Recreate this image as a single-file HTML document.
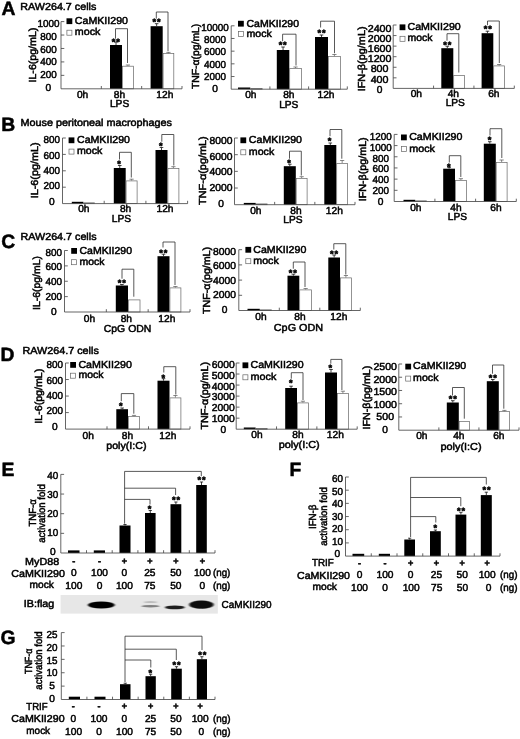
<!DOCTYPE html>
<html lang="en">
<head>
<meta charset="utf-8">
<title>CaMKII290 cytokine figure</title>
<style>
html,body{margin:0;padding:0;background:#fff;}
body{width:520px;height:739px;overflow:hidden;}
svg{display:block;filter:blur(.35px);}
svg text{font-family:"Liberation Sans","DejaVu Sans",sans-serif;font-size:10.2px;fill:#000;stroke:#000;stroke-width:.5px;text-rendering:geometricPrecision;}
.st{stroke-width:.55px;letter-spacing:.8px;}
.ax{fill:none;stroke:#4a4a4a;stroke-width:.85px;}
.tk{fill:none;stroke:#4a4a4a;stroke-width:.85px;}
.br{fill:none;stroke:#2e2e2e;stroke-width:.8px;}
.er{fill:none;stroke:#111;stroke-width:.8px;}
.erw{fill:none;stroke:#555;stroke-width:.7px;}
.bk{fill:#000;}
.wh{fill:#fff;stroke:#666;stroke-width:.7px;}
.gel{fill:#e7e7e7;}
</style>
</head>
<body>
<svg width="520" height="739" viewBox="0 0 520 739">
<defs>
<filter id="b1" x="-20%" y="-60%" width="140%" height="220%"><feGaussianBlur stdDeviation="0.9 0.7"/></filter>
<filter id="b2" x="-20%" y="-200%" width="140%" height="500%"><feGaussianBlur stdDeviation="0.9 0.6"/></filter>
</defs>
<rect x="0" y="0" width="520" height="739" fill="#fff"/>
<text x="1.6" y="15.2" style="font-size:19.3px" font-weight="bold">A</text>
<text x="1.2" y="130.6" style="font-size:19.3px" font-weight="bold">B</text>
<text x="1.2" y="247.5" style="font-size:19.3px" font-weight="bold">C</text>
<text x="0.6" y="360.6" style="font-size:19.3px" font-weight="bold">D</text>
<text x="1.6" y="475.6" style="font-size:19.3px" font-weight="bold">E</text>
<text x="289.4" y="475.6" style="font-size:19.3px" font-weight="bold">F</text>
<text x="0.4" y="643.8" style="font-size:19.3px" font-weight="bold">G</text>
<text x="20.3" y="9.8" textLength="76" lengthAdjust="spacingAndGlyphs">RAW264.7 cells</text>
<text x="20.5" y="125.8" textLength="151.5" lengthAdjust="spacingAndGlyphs">Mouse peritoneal macrophages</text>
<text x="20.5" y="239.6" textLength="76" lengthAdjust="spacingAndGlyphs">RAW264.7 cells</text>
<text x="22.5" y="353.8" textLength="76.3" lengthAdjust="spacingAndGlyphs">RAW264.7 cells</text>
<text x="48.4" y="26.85" text-anchor="middle" textLength="22" lengthAdjust="spacingAndGlyphs">1000</text>
<text x="48.4" y="39.71" text-anchor="middle" textLength="16.5" lengthAdjust="spacingAndGlyphs">800</text>
<text x="48.4" y="52.57" text-anchor="middle" textLength="16.5" lengthAdjust="spacingAndGlyphs">600</text>
<text x="48.4" y="65.43" text-anchor="middle" textLength="16.5" lengthAdjust="spacingAndGlyphs">400</text>
<text x="48.4" y="78.29" text-anchor="middle" textLength="16.5" lengthAdjust="spacingAndGlyphs">200</text>
<text x="48.4" y="91.15" text-anchor="middle">0</text>
<text transform="translate(35.7 55.1) rotate(-90)" text-anchor="middle" textLength="54.8" lengthAdjust="spacingAndGlyphs">IL-6(pg/mL)</text>
<rect class="bk" x="110" y="45" width="12" height="43.8"/>
<path class="er" d="M116 45V42M114.2 42H117.8"/>
<rect class="wh" x="122.4" y="66.2" width="11" height="22.6"/>
<path class="erw" d="M127.9 65.8V65M125.8 65H130"/>
<rect class="bk" x="150.6" y="26.2" width="12.1" height="62.6"/>
<path class="er" d="M156.65 26.2V23.7M154.85 23.7H158.45"/>
<rect class="wh" x="163.1" y="53.6" width="10.7" height="35.2"/>
<path class="erw" d="M168.45 53.2V52.4M166.35 52.4H170.55"/>
<path class="ax" d="M61 21.6V88.8H182"/>
<path class="tk" d="M61 21.6L64.3 21.6"/>
<path class="tk" d="M61 35.04L64.3 35.04"/>
<path class="tk" d="M61 48.48L64.3 48.48"/>
<path class="tk" d="M61 61.92L64.3 61.92"/>
<path class="tk" d="M61 75.36L64.3 75.36"/>
<path class="tk" d="M101.33 88.8L101.33 86"/>
<path class="tk" d="M141.67 88.8L141.67 86"/>
<path class="tk" d="M182 88.8L182 86"/>
<rect class="bk" x="66.5" y="18.3" width="5.8" height="5.8"/>
<rect class="wh" x="66.9" y="30.2" width="5" height="5"/>
<text x="74.8" y="24" textLength="53.2" lengthAdjust="spacingAndGlyphs">CaMKII290</text>
<text x="74.8" y="35.3" textLength="25.6" lengthAdjust="spacingAndGlyphs">mock</text>
<text x="116.2" y="45.3" text-anchor="middle" style="font-size:9.2px" font-weight="bold" class="st">**</text>
<text x="157" y="25.3" text-anchor="middle" style="font-size:9.2px" font-weight="bold" class="st">**</text>
<path class="br" d="M115.5 38.7V28.7H127.5V63"/>
<path class="br" d="M156.3 18.7V12H168V51.2"/>
<text x="82.6" y="97.9" text-anchor="middle">0h</text>
<text x="119.5" y="97.9" text-anchor="middle">8h</text>
<text x="164.8" y="97.9" text-anchor="middle">12h</text>
<text x="119.6" y="107" text-anchor="middle">LPS</text>
<text x="214.97" y="30.55" text-anchor="middle" textLength="27.5" lengthAdjust="spacingAndGlyphs">10000</text>
<text x="214.97" y="42.87" text-anchor="middle" textLength="22" lengthAdjust="spacingAndGlyphs">8000</text>
<text x="214.97" y="55.19" text-anchor="middle" textLength="22" lengthAdjust="spacingAndGlyphs">6000</text>
<text x="214.97" y="67.51" text-anchor="middle" textLength="22" lengthAdjust="spacingAndGlyphs">4000</text>
<text x="214.97" y="79.83" text-anchor="middle" textLength="22" lengthAdjust="spacingAndGlyphs">2000</text>
<text x="214.97" y="92.15" text-anchor="middle">0</text>
<text transform="translate(198.5 56.4) rotate(-90)" text-anchor="middle" textLength="65.3" lengthAdjust="spacingAndGlyphs">TNF-α(pg/mL)</text>
<rect class="bk" x="238" y="87.5" width="12.3" height="1.7"/>
<rect class="wh" x="250.7" y="88.5" width="11.4" height="0.7"/>
<rect class="bk" x="276.8" y="50" width="12.5" height="39.2"/>
<path class="er" d="M283.05 50V47M281.25 47H284.85"/>
<rect class="wh" x="289.7" y="68.4" width="11.7" height="20.8"/>
<path class="erw" d="M295.55 68V67M293.45 67H297.65"/>
<rect class="bk" x="315" y="37" width="13" height="52.2"/>
<path class="er" d="M321.5 37V35M319.7 35H323.3"/>
<rect class="wh" x="328.4" y="56.6" width="12" height="32.6"/>
<path class="erw" d="M334.4 56.2V54.5M332.3 54.5H336.5"/>
<path class="ax" d="M231.2 25.8V89.2H347.3"/>
<path class="tk" d="M231.2 25.8L234.5 25.8"/>
<path class="tk" d="M231.2 38.48L234.5 38.48"/>
<path class="tk" d="M231.2 51.16L234.5 51.16"/>
<path class="tk" d="M231.2 63.84L234.5 63.84"/>
<path class="tk" d="M231.2 76.52L234.5 76.52"/>
<path class="tk" d="M269.9 89.2L269.9 86.4"/>
<path class="tk" d="M308.6 89.2L308.6 86.4"/>
<path class="tk" d="M347.3 89.2L347.3 86.4"/>
<rect class="bk" x="238" y="20.8" width="5.8" height="5.8"/>
<rect class="wh" x="238.4" y="31.4" width="5" height="5"/>
<text x="246.5" y="26.5" textLength="52.5" lengthAdjust="spacingAndGlyphs">CaMKII290</text>
<text x="246.5" y="36.5" textLength="25.4" lengthAdjust="spacingAndGlyphs">mock</text>
<text x="283.1" y="48" text-anchor="middle" style="font-size:9.2px" font-weight="bold" class="st">**</text>
<text x="321.9" y="36" text-anchor="middle" style="font-size:9.2px" font-weight="bold" class="st">**</text>
<path class="br" d="M282.6 41.2V34.2H296V65.5"/>
<path class="br" d="M320.6 27.5V21.2H334.5V53.2"/>
<text x="250.8" y="98.4" text-anchor="middle">0h</text>
<text x="288.8" y="98.4" text-anchor="middle">8h</text>
<text x="326" y="98.4" text-anchor="middle">12h</text>
<text x="288.8" y="107.7" text-anchor="middle">LPS</text>
<text x="379.6" y="31.75" text-anchor="middle" textLength="23.8" lengthAdjust="spacingAndGlyphs">2400</text>
<text x="379.6" y="41.92" text-anchor="middle" textLength="23.8" lengthAdjust="spacingAndGlyphs">2000</text>
<text x="379.6" y="52.08" text-anchor="middle" textLength="23.8" lengthAdjust="spacingAndGlyphs">1600</text>
<text x="379.6" y="62.25" text-anchor="middle" textLength="23.8" lengthAdjust="spacingAndGlyphs">1200</text>
<text x="379.6" y="72.42" text-anchor="middle" textLength="17.85" lengthAdjust="spacingAndGlyphs">800</text>
<text x="379.6" y="82.58" text-anchor="middle" textLength="17.85" lengthAdjust="spacingAndGlyphs">400</text>
<text x="379.6" y="92.75" text-anchor="middle">0</text>
<text transform="translate(365 58.9) rotate(-90)" text-anchor="middle" textLength="64.9" lengthAdjust="spacingAndGlyphs">IFN-β(pg/mL)</text>
<rect class="bk" x="441.3" y="48.2" width="12" height="40.2"/>
<path class="er" d="M447.3 48.2V46.2M445.5 46.2H449.1"/>
<rect class="wh" x="453.7" y="75.4" width="10.9" height="13"/>
<rect class="bk" x="481.6" y="33.2" width="11.7" height="55.2"/>
<path class="er" d="M487.45 33.2V31.2M485.65 31.2H489.25"/>
<rect class="wh" x="493.7" y="65.9" width="10.9" height="22.5"/>
<path class="erw" d="M499.15 65.5V64.5M497.05 64.5H501.25"/>
<path class="ax" d="M393.2 25V88.4H514.3"/>
<path class="tk" d="M393.2 25L396.5 25"/>
<path class="tk" d="M393.2 35.57L396.5 35.57"/>
<path class="tk" d="M393.2 46.13L396.5 46.13"/>
<path class="tk" d="M393.2 56.7L396.5 56.7"/>
<path class="tk" d="M393.2 67.27L396.5 67.27"/>
<path class="tk" d="M393.2 77.83L396.5 77.83"/>
<path class="tk" d="M433.57 88.4L433.57 85.6"/>
<path class="tk" d="M473.93 88.4L473.93 85.6"/>
<path class="tk" d="M514.3 88.4L514.3 85.6"/>
<rect class="bk" x="399.6" y="24.4" width="5.8" height="5.8"/>
<rect class="wh" x="400" y="36.3" width="5" height="5"/>
<text x="407.5" y="30.1" textLength="53.3" lengthAdjust="spacingAndGlyphs">CaMKII290</text>
<text x="407.5" y="41.4" textLength="25" lengthAdjust="spacingAndGlyphs">mock</text>
<text x="447.7" y="48" text-anchor="middle" style="font-size:9.2px" font-weight="bold" class="st">**</text>
<text x="488.2" y="31.8" text-anchor="middle" style="font-size:9.2px" font-weight="bold" class="st">**</text>
<path class="br" d="M447 40.7V33.7H458.8V72.5"/>
<path class="br" d="M487.5 25.2V21H499.3V63"/>
<text x="416.3" y="97.3" text-anchor="middle">0h</text>
<text x="453.3" y="97.3" text-anchor="middle">4h</text>
<text x="493.8" y="97.3" text-anchor="middle">6h</text>
<text x="455.3" y="106.3" text-anchor="middle">LPS</text>
<text x="51.72" y="143.05" text-anchor="middle" textLength="16.5" lengthAdjust="spacingAndGlyphs">800</text>
<text x="51.72" y="158.5" text-anchor="middle" textLength="16.5" lengthAdjust="spacingAndGlyphs">600</text>
<text x="51.72" y="173.95" text-anchor="middle" textLength="16.5" lengthAdjust="spacingAndGlyphs">400</text>
<text x="51.72" y="189.4" text-anchor="middle" textLength="16.5" lengthAdjust="spacingAndGlyphs">200</text>
<text x="51.72" y="204.85" text-anchor="middle">0</text>
<text transform="translate(38.2 170.3) rotate(-90)" text-anchor="middle" textLength="56" lengthAdjust="spacingAndGlyphs">IL-6(pg/mL)</text>
<rect class="bk" x="71.8" y="201.8" width="11.6" height="1.8"/>
<rect class="wh" x="83.8" y="202.8" width="10.8" height="0.8"/>
<rect class="bk" x="113.8" y="168" width="11.9" height="35.6"/>
<path class="er" d="M119.75 168V165.5M117.95 165.5H121.55"/>
<rect class="wh" x="126.1" y="180.9" width="11" height="22.7"/>
<path class="erw" d="M131.6 180.5V179.2M129.5 179.2H133.7"/>
<rect class="bk" x="155.5" y="150" width="12" height="53.6"/>
<path class="er" d="M161.5 150V147.5M159.7 147.5H163.3"/>
<rect class="wh" x="167.9" y="168.4" width="11" height="35.2"/>
<path class="erw" d="M173.4 168V166.7M171.3 166.7H175.5"/>
<path class="ax" d="M62.5 138V203.6H187.6"/>
<path class="tk" d="M62.5 138L65.8 138"/>
<path class="tk" d="M62.5 154.4L65.8 154.4"/>
<path class="tk" d="M62.5 170.8L65.8 170.8"/>
<path class="tk" d="M62.5 187.2L65.8 187.2"/>
<path class="tk" d="M104.2 203.6L104.2 200.8"/>
<path class="tk" d="M145.9 203.6L145.9 200.8"/>
<path class="tk" d="M187.6 203.6L187.6 200.8"/>
<rect class="bk" x="68.6" y="137.4" width="5.8" height="5.8"/>
<rect class="wh" x="69" y="149.1" width="5" height="5"/>
<text x="77" y="143.1" textLength="53" lengthAdjust="spacingAndGlyphs">CaMKII290</text>
<text x="77" y="154.2" textLength="25.4" lengthAdjust="spacingAndGlyphs">mock</text>
<text x="119.5" y="166.8" text-anchor="middle" style="font-size:9.2px" font-weight="bold" class="st">*</text>
<text x="161.3" y="149.3" text-anchor="middle" style="font-size:9.2px" font-weight="bold" class="st">*</text>
<path class="br" d="M119.5 159.5V152.3H131.3V177.5"/>
<path class="br" d="M161.8 141.7V134.5H173.8V165.5"/>
<text x="83.8" y="212.2" text-anchor="middle">0h</text>
<text x="125.6" y="212.2" text-anchor="middle">8h</text>
<text x="165" y="212.2" text-anchor="middle">12h</text>
<text x="121.5" y="221.9" text-anchor="middle">LPS</text>
<text x="221" y="143.75" text-anchor="middle" textLength="23" lengthAdjust="spacingAndGlyphs">8000</text>
<text x="221" y="159.5" text-anchor="middle" textLength="23" lengthAdjust="spacingAndGlyphs">6000</text>
<text x="221" y="175.25" text-anchor="middle" textLength="23" lengthAdjust="spacingAndGlyphs">4000</text>
<text x="221" y="191" text-anchor="middle" textLength="23" lengthAdjust="spacingAndGlyphs">2000</text>
<text x="221" y="206.75" text-anchor="middle">0</text>
<text transform="translate(205.5 170.6) rotate(-90)" text-anchor="middle" textLength="68.7" lengthAdjust="spacingAndGlyphs">TNF-α(pg/mL)</text>
<rect class="bk" x="243.8" y="202.9" width="11.9" height="1.8"/>
<rect class="wh" x="256.1" y="203.9" width="11" height="0.8"/>
<rect class="bk" x="283.8" y="166.2" width="12" height="38.5"/>
<path class="er" d="M289.8 166.2V164.2M288 164.2H291.6"/>
<rect class="wh" x="296.2" y="178.4" width="10.9" height="26.3"/>
<path class="erw" d="M301.65 178V176.7M299.55 176.7H303.75"/>
<rect class="bk" x="324.3" y="145" width="12" height="59.7"/>
<path class="er" d="M330.3 145V143M328.5 143H332.1"/>
<rect class="wh" x="336.7" y="163.4" width="10.9" height="41.3"/>
<path class="erw" d="M342.15 163V160.5M340.05 160.5H344.25"/>
<path class="ax" d="M234.5 138V204.7H355"/>
<path class="tk" d="M234.5 138L237.8 138"/>
<path class="tk" d="M234.5 154.68L237.8 154.68"/>
<path class="tk" d="M234.5 171.35L237.8 171.35"/>
<path class="tk" d="M234.5 188.02L237.8 188.02"/>
<path class="tk" d="M274.67 204.7L274.67 201.9"/>
<path class="tk" d="M314.83 204.7L314.83 201.9"/>
<path class="tk" d="M355 204.7L355 201.9"/>
<rect class="bk" x="240.4" y="137.4" width="5.8" height="5.8"/>
<rect class="wh" x="240.8" y="149.8" width="5" height="5"/>
<text x="248.8" y="143.1" textLength="53.2" lengthAdjust="spacingAndGlyphs">CaMKII290</text>
<text x="248.8" y="154.9" textLength="25.4" lengthAdjust="spacingAndGlyphs">mock</text>
<text x="289.5" y="166" text-anchor="middle" style="font-size:9.2px" font-weight="bold" class="st">*</text>
<text x="330" y="144.3" text-anchor="middle" style="font-size:9.2px" font-weight="bold" class="st">*</text>
<path class="br" d="M289.5 158.7V151.2H301.3V175.5"/>
<path class="br" d="M330 136.2V129.5H341.8V158.7"/>
<text x="255.8" y="213.8" text-anchor="middle">0h</text>
<text x="296" y="213.8" text-anchor="middle">8h</text>
<text x="334.3" y="213.8" text-anchor="middle">12h</text>
<text x="293" y="223.2" text-anchor="middle">LPS</text>
<text x="380.7" y="140.05" text-anchor="middle" textLength="22" lengthAdjust="spacingAndGlyphs">1200</text>
<text x="380.7" y="150.83" text-anchor="middle" textLength="22" lengthAdjust="spacingAndGlyphs">1000</text>
<text x="380.7" y="161.62" text-anchor="middle" textLength="16.5" lengthAdjust="spacingAndGlyphs">800</text>
<text x="380.7" y="172.4" text-anchor="middle" textLength="16.5" lengthAdjust="spacingAndGlyphs">600</text>
<text x="380.7" y="183.18" text-anchor="middle" textLength="16.5" lengthAdjust="spacingAndGlyphs">400</text>
<text x="380.7" y="193.97" text-anchor="middle" textLength="16.5" lengthAdjust="spacingAndGlyphs">200</text>
<text x="380.7" y="204.75" text-anchor="middle">0</text>
<text transform="translate(366.2 169.3) rotate(-90)" text-anchor="middle" textLength="64" lengthAdjust="spacingAndGlyphs">IFN-β(pg/mL)</text>
<rect class="bk" x="403.5" y="199.8" width="11.7" height="1.7"/>
<rect class="wh" x="415.6" y="200.8" width="11" height="0.7"/>
<rect class="bk" x="443.2" y="168.7" width="11.8" height="32.8"/>
<path class="er" d="M449.1 168.7V167.4M447.3 167.4H450.9"/>
<rect class="wh" x="455.4" y="180.4" width="11" height="21.1"/>
<path class="erw" d="M460.9 180V178.7M458.8 178.7H463"/>
<rect class="bk" x="483.8" y="143.7" width="12" height="57.8"/>
<path class="er" d="M489.8 143.7V141.7M488 141.7H491.6"/>
<rect class="wh" x="496.2" y="162.4" width="10.9" height="39.1"/>
<path class="erw" d="M501.65 162V160M499.55 160H503.75"/>
<path class="ax" d="M394.2 134.4V201.5H516.3"/>
<path class="tk" d="M394.2 134.4L397.5 134.4"/>
<path class="tk" d="M394.2 145.58L397.5 145.58"/>
<path class="tk" d="M394.2 156.77L397.5 156.77"/>
<path class="tk" d="M394.2 167.95L397.5 167.95"/>
<path class="tk" d="M394.2 179.13L397.5 179.13"/>
<path class="tk" d="M394.2 190.32L397.5 190.32"/>
<path class="tk" d="M434.9 201.5L434.9 198.7"/>
<path class="tk" d="M475.6 201.5L475.6 198.7"/>
<path class="tk" d="M516.3 201.5L516.3 198.7"/>
<rect class="bk" x="401" y="134.5" width="5.8" height="5.8"/>
<rect class="wh" x="401.4" y="146.6" width="5" height="5"/>
<text x="409.2" y="140.2" textLength="53.2" lengthAdjust="spacingAndGlyphs">CaMKII290</text>
<text x="409.2" y="151.7" textLength="25.8" lengthAdjust="spacingAndGlyphs">mock</text>
<text x="449.3" y="169.8" text-anchor="middle" style="font-size:9.2px" font-weight="bold" class="st">*</text>
<text x="490" y="143" text-anchor="middle" style="font-size:9.2px" font-weight="bold" class="st">*</text>
<path class="br" d="M449.3 162.5V155.7H460.8V177"/>
<path class="br" d="M490 135.5V128.7H501.8V158"/>
<text x="415.8" y="210.5" text-anchor="middle">0h</text>
<text x="456" y="210.5" text-anchor="middle">4h</text>
<text x="496" y="210.5" text-anchor="middle">6h</text>
<text x="457.5" y="220.2" text-anchor="middle">LPS</text>
<text x="53.72" y="255.55" text-anchor="middle" textLength="16.5" lengthAdjust="spacingAndGlyphs">800</text>
<text x="53.72" y="270.38" text-anchor="middle" textLength="16.5" lengthAdjust="spacingAndGlyphs">600</text>
<text x="53.72" y="285.2" text-anchor="middle" textLength="16.5" lengthAdjust="spacingAndGlyphs">400</text>
<text x="53.72" y="300.03" text-anchor="middle" textLength="16.5" lengthAdjust="spacingAndGlyphs">200</text>
<text x="53.72" y="314.85" text-anchor="middle">0</text>
<text transform="translate(39.6 283) rotate(-90)" text-anchor="middle" textLength="53.8" lengthAdjust="spacingAndGlyphs">IL-6(pg/mL)</text>
<rect class="bk" x="115.8" y="285.5" width="12.2" height="26.5"/>
<path class="er" d="M121.9 285.5V284.5M120.1 284.5H123.7"/>
<rect class="wh" x="128.4" y="299.9" width="11.6" height="12.1"/>
<rect class="bk" x="157.5" y="256.2" width="12" height="55.8"/>
<path class="er" d="M163.5 256.2V254.2M161.7 254.2H165.3"/>
<rect class="wh" x="169.9" y="287.9" width="11" height="24.1"/>
<path class="erw" d="M175.4 287.5V286.5M173.3 286.5H177.5"/>
<path class="ax" d="M64.5 250.5V312H190"/>
<path class="tk" d="M64.5 250.5L67.8 250.5"/>
<path class="tk" d="M64.5 265.88L67.8 265.88"/>
<path class="tk" d="M64.5 281.25L67.8 281.25"/>
<path class="tk" d="M64.5 296.62L67.8 296.62"/>
<path class="tk" d="M106.33 312L106.33 309.2"/>
<path class="tk" d="M148.17 312L148.17 309.2"/>
<path class="tk" d="M190 312L190 309.2"/>
<rect class="bk" x="71.2" y="248" width="5.8" height="5.8"/>
<rect class="wh" x="71.6" y="259.7" width="5" height="5"/>
<text x="79.5" y="253.7" textLength="52.5" lengthAdjust="spacingAndGlyphs">CaMKII290</text>
<text x="79.5" y="264.8" textLength="25" lengthAdjust="spacingAndGlyphs">mock</text>
<text x="122.2" y="286.3" text-anchor="middle" style="font-size:9.2px" font-weight="bold" class="st">**</text>
<text x="163.7" y="255.5" text-anchor="middle" style="font-size:9.2px" font-weight="bold" class="st">**</text>
<path class="br" d="M122 278.7V269.2H133.8V296.7"/>
<path class="br" d="M163 247.5V242H175V285"/>
<text x="89.5" y="322.3" text-anchor="middle">0h</text>
<text x="126.3" y="322.3" text-anchor="middle">8h</text>
<text x="166.8" y="322.3" text-anchor="middle">12h</text>
<text x="103.8" y="331.8" textLength="47.5" lengthAdjust="spacingAndGlyphs">CpG ODN</text>
<text x="224.6" y="254.75" text-anchor="middle" textLength="23" lengthAdjust="spacingAndGlyphs">8000</text>
<text x="224.6" y="269.32" text-anchor="middle" textLength="23" lengthAdjust="spacingAndGlyphs">6000</text>
<text x="224.6" y="283.9" text-anchor="middle" textLength="23" lengthAdjust="spacingAndGlyphs">4000</text>
<text x="224.6" y="298.48" text-anchor="middle" textLength="23" lengthAdjust="spacingAndGlyphs">2000</text>
<text x="224.6" y="313.05" text-anchor="middle">0</text>
<text transform="translate(210.1 280.4) rotate(-90)" text-anchor="middle" textLength="67" lengthAdjust="spacingAndGlyphs">TNF-α(pg/mL)</text>
<rect class="bk" x="247.5" y="308.8" width="12.3" height="1.7"/>
<rect class="wh" x="260.2" y="309.8" width="11.4" height="0.7"/>
<rect class="bk" x="287.5" y="275.7" width="11.8" height="34.8"/>
<path class="er" d="M293.4 275.7V274.2M291.6 274.2H295.2"/>
<rect class="wh" x="299.7" y="289.9" width="11.9" height="20.6"/>
<path class="erw" d="M305.65 289.5V288.5M303.55 288.5H307.75"/>
<rect class="bk" x="328.3" y="257.5" width="11.7" height="53"/>
<path class="er" d="M334.15 257.5V255M332.35 255H335.95"/>
<rect class="wh" x="340.4" y="277.9" width="11" height="32.6"/>
<path class="erw" d="M345.9 277.5V275.5M343.8 275.5H348"/>
<path class="ax" d="M238.8 249.7V310.5H360.3"/>
<path class="tk" d="M238.8 249.7L242.1 249.7"/>
<path class="tk" d="M238.8 264.9L242.1 264.9"/>
<path class="tk" d="M238.8 280.1L242.1 280.1"/>
<path class="tk" d="M238.8 295.3L242.1 295.3"/>
<path class="tk" d="M279.3 310.5L279.3 307.7"/>
<path class="tk" d="M319.8 310.5L319.8 307.7"/>
<path class="tk" d="M360.3 310.5L360.3 307.7"/>
<rect class="bk" x="245.4" y="246.9" width="5.8" height="5.8"/>
<rect class="wh" x="245.8" y="258.7" width="5" height="5"/>
<text x="253.3" y="252.6" textLength="53" lengthAdjust="spacingAndGlyphs">CaMKII290</text>
<text x="253.3" y="263.8" textLength="25.5" lengthAdjust="spacingAndGlyphs">mock</text>
<text x="293.2" y="276" text-anchor="middle" style="font-size:9.2px" font-weight="bold" class="st">**</text>
<text x="334.5" y="256.8" text-anchor="middle" style="font-size:9.2px" font-weight="bold" class="st">**</text>
<path class="br" d="M293.3 268.7V262H305V287"/>
<path class="br" d="M333.8 249.5V243.7H345.8V274.5"/>
<text x="261" y="320.2" text-anchor="middle">0h</text>
<text x="300" y="320.2" text-anchor="middle">8h</text>
<text x="338.8" y="320.2" text-anchor="middle">12h</text>
<text x="273.8" y="330.8" textLength="49.3" lengthAdjust="spacingAndGlyphs">CpG ODN</text>
<text x="54.72" y="368.35" text-anchor="middle" textLength="16.5" lengthAdjust="spacingAndGlyphs">800</text>
<text x="54.72" y="383.65" text-anchor="middle" textLength="16.5" lengthAdjust="spacingAndGlyphs">600</text>
<text x="54.72" y="398.95" text-anchor="middle" textLength="16.5" lengthAdjust="spacingAndGlyphs">400</text>
<text x="54.72" y="414.25" text-anchor="middle" textLength="16.5" lengthAdjust="spacingAndGlyphs">200</text>
<text x="54.72" y="429.55" text-anchor="middle">0</text>
<text transform="translate(42.3 396.2) rotate(-90)" text-anchor="middle" textLength="55" lengthAdjust="spacingAndGlyphs">IL-6(pg/mL)</text>
<rect class="bk" x="116.3" y="409.2" width="11.7" height="19.9"/>
<path class="er" d="M122.15 409.2V408M120.35 408H123.95"/>
<rect class="wh" x="128.4" y="416.6" width="11.2" height="12.5"/>
<path class="erw" d="M134 416.2V415.4M131.9 415.4H136.1"/>
<rect class="bk" x="157.5" y="380.7" width="12" height="48.4"/>
<path class="er" d="M163.5 380.7V378.7M161.7 378.7H165.3"/>
<rect class="wh" x="169.9" y="397.9" width="11" height="31.2"/>
<path class="erw" d="M175.4 397.5V395.5M173.3 395.5H177.5"/>
<path class="ax" d="M65.5 363V429.1H190"/>
<path class="tk" d="M65.5 363L68.8 363"/>
<path class="tk" d="M65.5 379.52L68.8 379.52"/>
<path class="tk" d="M65.5 396.05L68.8 396.05"/>
<path class="tk" d="M65.5 412.58L68.8 412.58"/>
<path class="tk" d="M107 429.1L107 426.3"/>
<path class="tk" d="M148.5 429.1L148.5 426.3"/>
<path class="tk" d="M190 429.1L190 426.3"/>
<rect class="bk" x="70.2" y="362" width="5.8" height="5.8"/>
<rect class="wh" x="70.6" y="373.2" width="5" height="5"/>
<text x="78.4" y="367.7" textLength="53.5" lengthAdjust="spacingAndGlyphs">CaMKII290</text>
<text x="78.4" y="378.3" textLength="25.2" lengthAdjust="spacingAndGlyphs">mock</text>
<text x="121.3" y="408.5" text-anchor="middle" style="font-size:9.2px" font-weight="bold" class="st">*</text>
<text x="163.8" y="380.5" text-anchor="middle" style="font-size:9.2px" font-weight="bold" class="st">*</text>
<path class="br" d="M121.3 401.2V393.6H133.8V413.7"/>
<path class="br" d="M163.8 372.5V366.7H175.8V394.5"/>
<text x="88.2" y="438.8" text-anchor="middle">0h</text>
<text x="127.5" y="438.8" text-anchor="middle">8h</text>
<text x="167.8" y="438.8" text-anchor="middle">12h</text>
<text x="106.2" y="449" textLength="40.4" lengthAdjust="spacingAndGlyphs">poly(I:C)</text>
<text x="223.3" y="368.05" text-anchor="middle" textLength="23" lengthAdjust="spacingAndGlyphs">6000</text>
<text x="223.3" y="378.83" text-anchor="middle" textLength="23" lengthAdjust="spacingAndGlyphs">5000</text>
<text x="223.3" y="389.62" text-anchor="middle" textLength="23" lengthAdjust="spacingAndGlyphs">4000</text>
<text x="223.3" y="400.4" text-anchor="middle" textLength="23" lengthAdjust="spacingAndGlyphs">3000</text>
<text x="223.3" y="411.18" text-anchor="middle" textLength="23" lengthAdjust="spacingAndGlyphs">2000</text>
<text x="223.3" y="421.97" text-anchor="middle" textLength="23" lengthAdjust="spacingAndGlyphs">1000</text>
<text x="223.3" y="432.75" text-anchor="middle">0</text>
<text transform="translate(207.6 395.7) rotate(-90)" text-anchor="middle" textLength="67.5" lengthAdjust="spacingAndGlyphs">TNF-α(pg/mL)</text>
<rect class="bk" x="243.8" y="427.5" width="11.8" height="1.7"/>
<rect class="wh" x="256" y="428.5" width="11.1" height="0.7"/>
<rect class="bk" x="285.2" y="388" width="11.8" height="41.2"/>
<path class="er" d="M291.1 388V386.2M289.3 386.2H292.9"/>
<rect class="wh" x="297.4" y="402.9" width="11" height="26.3"/>
<path class="erw" d="M302.9 402.5V401.2M300.8 401.2H305"/>
<rect class="bk" x="325" y="372.5" width="12" height="56.7"/>
<path class="er" d="M331 372.5V369.5M329.2 369.5H332.8"/>
<rect class="wh" x="337.4" y="393.6" width="11" height="35.6"/>
<path class="erw" d="M342.9 393.2V391.2M340.8 391.2H345"/>
<path class="ax" d="M236.2 363V429.2H357.2"/>
<path class="tk" d="M236.2 363L239.5 363"/>
<path class="tk" d="M236.2 374.03L239.5 374.03"/>
<path class="tk" d="M236.2 385.07L239.5 385.07"/>
<path class="tk" d="M236.2 396.1L239.5 396.1"/>
<path class="tk" d="M236.2 407.13L239.5 407.13"/>
<path class="tk" d="M236.2 418.17L239.5 418.17"/>
<path class="tk" d="M276.53 429.2L276.53 426.4"/>
<path class="tk" d="M316.87 429.2L316.87 426.4"/>
<path class="tk" d="M357.2 429.2L357.2 426.4"/>
<rect class="bk" x="242.5" y="362.4" width="5.8" height="5.8"/>
<rect class="wh" x="242.9" y="374.8" width="5" height="5"/>
<text x="250.5" y="368.1" textLength="53.2" lengthAdjust="spacingAndGlyphs">CaMKII290</text>
<text x="250.5" y="379.9" textLength="25.8" lengthAdjust="spacingAndGlyphs">mock</text>
<text x="291.3" y="386" text-anchor="middle" style="font-size:9.2px" font-weight="bold" class="st">*</text>
<text x="330.8" y="371" text-anchor="middle" style="font-size:9.2px" font-weight="bold" class="st">*</text>
<path class="br" d="M291.3 378.7V372.7H303V400"/>
<path class="br" d="M330.8 363.7V359.4H341.9V390"/>
<text x="257" y="437.6" text-anchor="middle">0h</text>
<text x="298" y="437.6" text-anchor="middle">8h</text>
<text x="335.3" y="437.6" text-anchor="middle">12h</text>
<text x="278.7" y="448" textLength="41" lengthAdjust="spacingAndGlyphs">poly(I:C)</text>
<text x="385.2" y="370.05" text-anchor="middle" textLength="23.6" lengthAdjust="spacingAndGlyphs">2500</text>
<text x="385.2" y="382.65" text-anchor="middle" textLength="23.6" lengthAdjust="spacingAndGlyphs">2000</text>
<text x="385.2" y="395.25" text-anchor="middle" textLength="23.6" lengthAdjust="spacingAndGlyphs">1500</text>
<text x="385.2" y="407.85" text-anchor="middle" textLength="23.6" lengthAdjust="spacingAndGlyphs">1000</text>
<text x="385.2" y="420.45" text-anchor="middle" textLength="17.7" lengthAdjust="spacingAndGlyphs">500</text>
<text x="385.2" y="433.05" text-anchor="middle">0</text>
<text transform="translate(370.1 397.6) rotate(-90)" text-anchor="middle" textLength="63.8" lengthAdjust="spacingAndGlyphs">IFN-β(pg/mL)</text>
<rect class="bk" x="446.8" y="402.5" width="12" height="27.7"/>
<path class="er" d="M452.8 402.5V400.7M451 400.7H454.6"/>
<rect class="wh" x="459.2" y="421.6" width="10.4" height="8.6"/>
<rect class="bk" x="486.8" y="381.2" width="12" height="49"/>
<path class="er" d="M492.8 381.2V379.5M491 379.5H494.6"/>
<rect class="wh" x="499.2" y="411.6" width="10.4" height="18.6"/>
<path class="erw" d="M504.4 411.2V410.4M502.3 410.4H506.5"/>
<path class="ax" d="M398.8 364V430.2H519"/>
<path class="tk" d="M398.8 364L402.1 364"/>
<path class="tk" d="M398.8 377.24L402.1 377.24"/>
<path class="tk" d="M398.8 390.48L402.1 390.48"/>
<path class="tk" d="M398.8 403.72L402.1 403.72"/>
<path class="tk" d="M398.8 416.96L402.1 416.96"/>
<path class="tk" d="M438.87 430.2L438.87 427.4"/>
<path class="tk" d="M478.93 430.2L478.93 427.4"/>
<path class="tk" d="M519 430.2L519 427.4"/>
<rect class="bk" x="405.3" y="363.7" width="5.8" height="5.8"/>
<rect class="wh" x="405.7" y="376.1" width="5" height="5"/>
<text x="413.1" y="369.4" textLength="53.2" lengthAdjust="spacingAndGlyphs">CaMKII290</text>
<text x="413.1" y="381.2" textLength="25.4" lengthAdjust="spacingAndGlyphs">mock</text>
<text x="453.2" y="401.8" text-anchor="middle" style="font-size:9.2px" font-weight="bold" class="st">**</text>
<text x="493.2" y="381.2" text-anchor="middle" style="font-size:9.2px" font-weight="bold" class="st">**</text>
<path class="br" d="M452.5 395.5V387.5H464.3V418.7"/>
<path class="br" d="M492.5 373.7V365H503.8V408.7"/>
<text x="421.8" y="439.4" text-anchor="middle">0h</text>
<text x="458.8" y="439.4" text-anchor="middle">4h</text>
<text x="498.8" y="439.4" text-anchor="middle">6h</text>
<text x="440.4" y="449.8" textLength="41.2" lengthAdjust="spacingAndGlyphs">poly(I:C)</text>
<text x="52.75" y="479.45" text-anchor="middle" textLength="11" lengthAdjust="spacingAndGlyphs">40</text>
<text x="52.75" y="498.35" text-anchor="middle" textLength="11" lengthAdjust="spacingAndGlyphs">30</text>
<text x="52.75" y="517.25" text-anchor="middle" textLength="11" lengthAdjust="spacingAndGlyphs">20</text>
<text x="52.75" y="536.15" text-anchor="middle" textLength="11" lengthAdjust="spacingAndGlyphs">10</text>
<text x="52.75" y="555.05" text-anchor="middle">0</text>
<text transform="translate(35.9 512.9) rotate(-90)" text-anchor="middle" style="font-size:10.3px" textLength="27.4" lengthAdjust="spacingAndGlyphs">TNF-α</text>
<text transform="translate(44.8 513.5) rotate(-90)" text-anchor="middle" style="font-size:10.3px" textLength="58.5" lengthAdjust="spacingAndGlyphs">activation fold</text>
<rect class="bk" x="68" y="550.4" width="11.5" height="2.6"/>
<rect class="bk" x="93.8" y="550.4" width="11.2" height="2.6"/>
<rect class="bk" x="119.5" y="525.5" width="11" height="27.5"/>
<path class="er" d="M125 525.5V524.5M123.4 524.5H126.6"/>
<rect class="bk" x="145" y="513" width="10.6" height="40"/>
<path class="er" d="M150.3 513V510.5M148.7 510.5H151.9"/>
<rect class="bk" x="170.5" y="504.2" width="10.8" height="48.8"/>
<path class="er" d="M175.9 504.2V502M174.3 502H177.5"/>
<rect class="bk" x="196.2" y="485" width="10.6" height="68"/>
<path class="er" d="M201.5 485V482M199.9 482H203.1"/>
<path class="ax" d="M60.8 474.4V553H215"/>
<path class="tk" d="M60.8 474.4L64.1 474.4"/>
<path class="tk" d="M60.8 494.05L64.1 494.05"/>
<path class="tk" d="M60.8 513.7L64.1 513.7"/>
<path class="tk" d="M60.8 533.35L64.1 533.35"/>
<path class="tk" d="M86.5 553L86.5 550.2"/>
<path class="tk" d="M112.2 553L112.2 550.2"/>
<path class="tk" d="M137.9 553L137.9 550.2"/>
<path class="tk" d="M163.6 553L163.6 550.2"/>
<path class="tk" d="M189.3 553L189.3 550.2"/>
<path class="tk" d="M215 553L215 550.2"/>
<path class="br" d="M124.6 523.7V471.4M124.6 471.4H201.3V476.2M124.6 488.2H175.6V495M124.6 499.4H150V504.5"/>
<text x="150" y="512.3" text-anchor="middle" style="font-size:9.2px" font-weight="bold" class="st">*</text>
<text x="176.5" y="503" text-anchor="middle" style="font-size:9.2px" font-weight="bold" class="st">**</text>
<text x="202" y="483" text-anchor="middle" style="font-size:9.2px" font-weight="bold" class="st">**</text>
<text x="25" y="564.5" textLength="34.2" lengthAdjust="spacingAndGlyphs">MyD88</text>
<text x="11.3" y="576.7" textLength="53.7" lengthAdjust="spacingAndGlyphs">CaMKII290</text>
<text x="29.5" y="587.6" textLength="24.3" lengthAdjust="spacingAndGlyphs">mock</text>
<text x="73.8" y="563.9" text-anchor="middle" style="font-size:9px" font-weight="bold">-</text>
<text x="99.5" y="563.9" text-anchor="middle" style="font-size:9px" font-weight="bold">-</text>
<text x="124.4" y="563.9" text-anchor="middle" style="font-size:9px" font-weight="bold">+</text>
<text x="149.8" y="563.9" text-anchor="middle" style="font-size:9px" font-weight="bold">+</text>
<text x="175.8" y="563.9" text-anchor="middle" style="font-size:9px" font-weight="bold">+</text>
<text x="202.4" y="563.9" text-anchor="middle" style="font-size:9px" font-weight="bold">+</text>
<text x="73.8" y="576.3" text-anchor="middle">0</text>
<text x="99.5" y="576.3" text-anchor="middle">100</text>
<text x="124.4" y="576.3" text-anchor="middle">0</text>
<text x="149.8" y="576.3" text-anchor="middle">25</text>
<text x="175.8" y="576.3" text-anchor="middle">50</text>
<text x="202.4" y="576.3" text-anchor="middle">100</text>
<text x="73.8" y="588.6" text-anchor="middle">100</text>
<text x="99.5" y="588.6" text-anchor="middle">0</text>
<text x="124.4" y="588.6" text-anchor="middle">100</text>
<text x="149.8" y="588.6" text-anchor="middle">75</text>
<text x="175.8" y="588.6" text-anchor="middle">50</text>
<text x="202.4" y="588.6" text-anchor="middle">0</text>
<text x="212.9" y="576.3" textLength="17.5" lengthAdjust="spacingAndGlyphs">(ng)</text>
<text x="212.9" y="588.6" textLength="17.5" lengthAdjust="spacingAndGlyphs">(ng)</text>
<text x="337.45" y="482.25" text-anchor="middle" textLength="11" lengthAdjust="spacingAndGlyphs">60</text>
<text x="337.45" y="494.75" text-anchor="middle" textLength="11" lengthAdjust="spacingAndGlyphs">50</text>
<text x="337.45" y="507.25" text-anchor="middle" textLength="11" lengthAdjust="spacingAndGlyphs">40</text>
<text x="337.45" y="519.75" text-anchor="middle" textLength="11" lengthAdjust="spacingAndGlyphs">30</text>
<text x="337.45" y="532.25" text-anchor="middle" textLength="11" lengthAdjust="spacingAndGlyphs">20</text>
<text x="337.45" y="544.75" text-anchor="middle" textLength="11" lengthAdjust="spacingAndGlyphs">10</text>
<text x="337.45" y="557.25" text-anchor="middle">0</text>
<text transform="translate(316.2 516.8) rotate(-90)" text-anchor="middle" style="font-size:10.3px" textLength="24.4" lengthAdjust="spacingAndGlyphs">IFN-β</text>
<text transform="translate(326.8 516.5) rotate(-90)" text-anchor="middle" style="font-size:10.3px" textLength="58.5" lengthAdjust="spacingAndGlyphs">activation fold</text>
<rect class="bk" x="352.5" y="553.8" width="11.7" height="2.3"/>
<rect class="bk" x="378.8" y="553.8" width="11.2" height="2.3"/>
<rect class="bk" x="404.3" y="539.5" width="10.7" height="16.6"/>
<path class="er" d="M409.65 539.5V538.2M408.05 538.2H411.25"/>
<rect class="bk" x="430" y="531.2" width="10.8" height="24.9"/>
<path class="er" d="M435.4 531.2V530M433.8 530H437"/>
<rect class="bk" x="455.5" y="514.6" width="10.8" height="41.5"/>
<path class="er" d="M460.9 514.6V512.3M459.3 512.3H462.5"/>
<rect class="bk" x="480.8" y="495.1" width="11" height="61"/>
<path class="er" d="M486.3 495.1V492.2M484.7 492.2H487.9"/>
<path class="ax" d="M345.5 477V556.1H500"/>
<path class="tk" d="M345.5 477L348.8 477"/>
<path class="tk" d="M345.5 490.18L348.8 490.18"/>
<path class="tk" d="M345.5 503.37L348.8 503.37"/>
<path class="tk" d="M345.5 516.55L348.8 516.55"/>
<path class="tk" d="M345.5 529.73L348.8 529.73"/>
<path class="tk" d="M345.5 542.92L348.8 542.92"/>
<path class="tk" d="M371.25 556.1L371.25 553.3"/>
<path class="tk" d="M397 556.1L397 553.3"/>
<path class="tk" d="M422.75 556.1L422.75 553.3"/>
<path class="tk" d="M448.5 556.1L448.5 553.3"/>
<path class="tk" d="M474.25 556.1L474.25 553.3"/>
<path class="tk" d="M500 556.1L500 553.3"/>
<path class="br" d="M410.6 537V477.4M410.6 477.4H486.3V484.5M410.6 497.5H460.8V506.2M410.6 516.6H435.8V522.5"/>
<text x="435.8" y="531" text-anchor="middle" style="font-size:9.2px" font-weight="bold" class="st">*</text>
<text x="461.5" y="514.1" text-anchor="middle" style="font-size:9.2px" font-weight="bold" class="st">**</text>
<text x="487" y="492.8" text-anchor="middle" style="font-size:9.2px" font-weight="bold" class="st">**</text>
<text x="312" y="566.3" textLength="21.8" lengthAdjust="spacingAndGlyphs">TRIF</text>
<text x="297" y="578.5" textLength="53" lengthAdjust="spacingAndGlyphs">CaMKII290</text>
<text x="312.5" y="590.2" textLength="24.5" lengthAdjust="spacingAndGlyphs">mock</text>
<text x="359.5" y="565.7" text-anchor="middle" style="font-size:9px" font-weight="bold">-</text>
<text x="385" y="565.7" text-anchor="middle" style="font-size:9px" font-weight="bold">-</text>
<text x="410.7" y="565.7" text-anchor="middle" style="font-size:9px" font-weight="bold">+</text>
<text x="436.5" y="565.7" text-anchor="middle" style="font-size:9px" font-weight="bold">+</text>
<text x="462.2" y="565.7" text-anchor="middle" style="font-size:9px" font-weight="bold">+</text>
<text x="487.2" y="565.7" text-anchor="middle" style="font-size:9px" font-weight="bold">+</text>
<text x="359.5" y="578.1" text-anchor="middle">0</text>
<text x="385" y="578.1" text-anchor="middle">100</text>
<text x="410.7" y="578.1" text-anchor="middle">0</text>
<text x="436.5" y="578.1" text-anchor="middle">25</text>
<text x="462.2" y="578.1" text-anchor="middle">50</text>
<text x="487.2" y="578.1" text-anchor="middle">100</text>
<text x="359.5" y="591.2" text-anchor="middle">100</text>
<text x="385" y="591.2" text-anchor="middle">0</text>
<text x="411.2" y="591.2" text-anchor="middle">100</text>
<text x="436.7" y="591.2" text-anchor="middle">75</text>
<text x="462.4" y="591.2" text-anchor="middle">50</text>
<text x="488.6" y="591.2" text-anchor="middle">0</text>
<text x="500" y="578.1" textLength="17.5" lengthAdjust="spacingAndGlyphs">(ng)</text>
<text x="500" y="591.2" textLength="17.5" lengthAdjust="spacingAndGlyphs">(ng)</text>
<text x="52" y="638.15" text-anchor="middle" textLength="11" lengthAdjust="spacingAndGlyphs">25</text>
<text x="52" y="650.93" text-anchor="middle" textLength="11" lengthAdjust="spacingAndGlyphs">20</text>
<text x="52" y="663.71" text-anchor="middle" textLength="11" lengthAdjust="spacingAndGlyphs">15</text>
<text x="52" y="676.49" text-anchor="middle" textLength="11" lengthAdjust="spacingAndGlyphs">10</text>
<text x="52" y="689.27" text-anchor="middle">5</text>
<text x="52" y="702.05" text-anchor="middle">0</text>
<text transform="translate(32.3 661.3) rotate(-90)" text-anchor="middle" style="font-size:10.3px" textLength="25.4" lengthAdjust="spacingAndGlyphs">TNF-α</text>
<text transform="translate(42.3 660.5) rotate(-90)" text-anchor="middle" style="font-size:10.3px" textLength="58.3" lengthAdjust="spacingAndGlyphs">activation fold</text>
<rect class="bk" x="68.8" y="696.7" width="11.2" height="2.8"/>
<rect class="bk" x="94.5" y="696.7" width="11" height="2.8"/>
<rect class="bk" x="120" y="684.2" width="10.5" height="15.3"/>
<path class="er" d="M125.25 684.2V683.2M123.65 683.2H126.85"/>
<rect class="bk" x="145.5" y="676.2" width="10.3" height="23.3"/>
<path class="er" d="M150.65 676.2V674.2M149.05 674.2H152.25"/>
<rect class="bk" x="171.2" y="668.7" width="10.6" height="30.8"/>
<path class="er" d="M176.5 668.7V666.7M174.9 666.7H178.1"/>
<rect class="bk" x="196.8" y="659.2" width="10.2" height="40.3"/>
<path class="er" d="M201.9 659.2V656.7M200.3 656.7H203.5"/>
<path class="ax" d="M61.3 632.6V699.5H215"/>
<path class="tk" d="M61.3 632.6L64.6 632.6"/>
<path class="tk" d="M61.3 645.98L64.6 645.98"/>
<path class="tk" d="M61.3 659.36L64.6 659.36"/>
<path class="tk" d="M61.3 672.74L64.6 672.74"/>
<path class="tk" d="M61.3 686.12L64.6 686.12"/>
<path class="tk" d="M86.92 699.5L86.92 696.7"/>
<path class="tk" d="M112.53 699.5L112.53 696.7"/>
<path class="tk" d="M138.15 699.5L138.15 696.7"/>
<path class="tk" d="M163.77 699.5L163.77 696.7"/>
<path class="tk" d="M189.38 699.5L189.38 696.7"/>
<path class="tk" d="M215 699.5L215 696.7"/>
<path class="br" d="M125 682V636.2M125 636.2H202V650M125 649.2H176.3V660M125 660H150.8V667.5"/>
<text x="150.8" y="676" text-anchor="middle" style="font-size:9.2px" font-weight="bold" class="st">*</text>
<text x="177" y="667.8" text-anchor="middle" style="font-size:9.2px" font-weight="bold" class="st">**</text>
<text x="202.7" y="658" text-anchor="middle" style="font-size:9.2px" font-weight="bold" class="st">**</text>
<text x="26.3" y="709.5" textLength="21.3" lengthAdjust="spacingAndGlyphs">TRIF</text>
<text x="11.3" y="722.2" textLength="53.3" lengthAdjust="spacingAndGlyphs">CaMKII290</text>
<text x="26.3" y="733.9" textLength="23.8" lengthAdjust="spacingAndGlyphs">mock</text>
<text x="73.3" y="708.9" text-anchor="middle" style="font-size:9px" font-weight="bold">-</text>
<text x="99" y="708.9" text-anchor="middle" style="font-size:9px" font-weight="bold">-</text>
<text x="124.3" y="708.9" text-anchor="middle" style="font-size:9px" font-weight="bold">+</text>
<text x="150.6" y="708.9" text-anchor="middle" style="font-size:9px" font-weight="bold">+</text>
<text x="176" y="708.9" text-anchor="middle" style="font-size:9px" font-weight="bold">+</text>
<text x="200.2" y="708.9" text-anchor="middle" style="font-size:9px" font-weight="bold">+</text>
<text x="73.3" y="721.8" text-anchor="middle">0</text>
<text x="99" y="721.8" text-anchor="middle">100</text>
<text x="124.3" y="721.8" text-anchor="middle">0</text>
<text x="150.6" y="721.8" text-anchor="middle">25</text>
<text x="176" y="721.8" text-anchor="middle">50</text>
<text x="200.2" y="721.8" text-anchor="middle">100</text>
<text x="73.6" y="734.9" text-anchor="middle">100</text>
<text x="99" y="734.9" text-anchor="middle">0</text>
<text x="124.5" y="734.9" text-anchor="middle">100</text>
<text x="150.6" y="734.9" text-anchor="middle">75</text>
<text x="176" y="734.9" text-anchor="middle">50</text>
<text x="201.4" y="734.9" text-anchor="middle">0</text>
<text x="213" y="721.8" textLength="17.5" lengthAdjust="spacingAndGlyphs">(ng)</text>
<text x="213" y="734.9" textLength="17.5" lengthAdjust="spacingAndGlyphs">(ng)</text>
<text x="23.8" y="607" textLength="30.5" lengthAdjust="spacingAndGlyphs">IB:flag</text>
<rect class="gel" x="60.6" y="595" width="157.2" height="18.6"/>
<g filter="url(#b1)"><ellipse cx="101.3" cy="605" rx="13.4" ry="3.5" fill="#050505"/><ellipse cx="201.4" cy="604.7" rx="12.2" ry="4.1" fill="#0a0a0a"/><ellipse cx="174.8" cy="607.4" rx="9.8" ry="1.9" fill="#1c1c1c"/></g>
<g filter="url(#b2)"><ellipse cx="150.5" cy="606.2" rx="9" ry="1.2" fill="#808080"/><ellipse cx="150.5" cy="602.1" rx="7" ry="1" fill="#bdbdbd"/></g>
<text x="221.6" y="608.3" textLength="50" lengthAdjust="spacingAndGlyphs">CaMKII290</text>
</svg>
</body>
</html>
